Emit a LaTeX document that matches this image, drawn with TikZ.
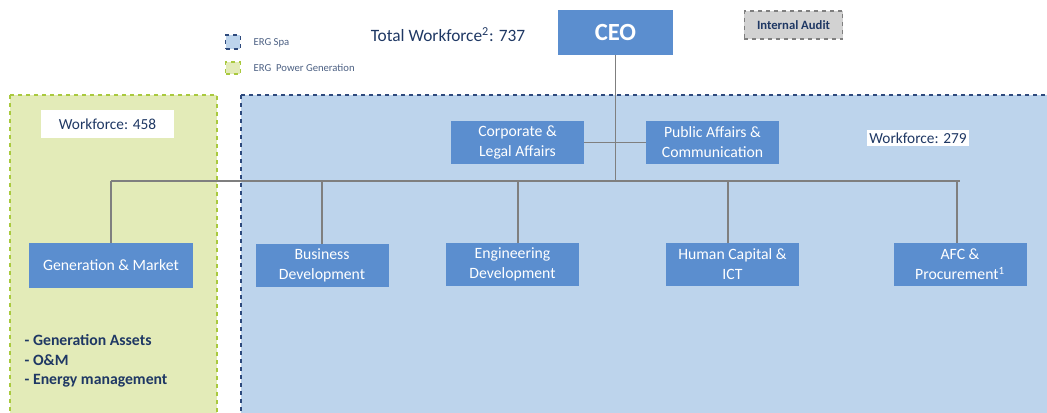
\documentclass[tikz,border=0pt]{standalone}
\usepackage{fontspec}
\setmainfont{Carlito}
\usepackage{tikz}
\definecolor{boxblue}{HTML}{5B8ECF}
\definecolor{spafill}{HTML}{BDD4EC}
\definecolor{spaline}{HTML}{2E4A7D}
\definecolor{pgfill}{HTML}{E3EBB8}
\definecolor{pgline}{HTML}{A9C93E}
\definecolor{navy}{HTML}{1F3864}
\definecolor{linegray}{HTML}{7F7F7F}
\definecolor{auditgray}{HTML}{D2D2D2}

\begin{document}
\begin{tikzpicture}[x=0.75pt, y=-0.75pt, font=\fontsize{11.8}{15}\selectfont,
  Unit/.style={fill=boxblue, text=white, align=center, inner sep=1pt, minimum width=99.75pt, minimum height=32.5pt},
  Link/.style={draw=linegray, line width=0.8pt},
  Count/.style={fill=white, text=navy, inner sep=2pt, font=\fontsize{11.5}{13}\selectfont}]

\useasboundingbox (0,0) rectangle (1047,412);

% company areas
\filldraw [fill=pgfill, draw=pgline, dashed, line width=0.9pt] (10,95) rectangle (217,418);
\filldraw [fill=spafill, draw=spaline, dashed, line width=0.9pt] (241,95) rectangle (1052,418);

% legend
\node [draw=spaline, fill=spafill, dashed, line width=0.8pt, minimum width=11pt, minimum height=10.5pt, inner sep=0pt] (legspa) at (233,42) {};
\node [draw=pgline, fill=pgfill, dashed, line width=0.8pt, minimum width=11pt, minimum height=9pt, inner sep=0pt] (legpg) at (233,68) {};
\node [anchor=west, text=navy!80, font=\fontsize{8}{9}\selectfont] (legspatxt) at (249,43) {ERG Spa};
\node [anchor=west, text=navy!80, font=\fontsize{8}{9}\selectfont] (legpgtxt) at (249,68) {ERG\ \ Power Generation};

\node [text=navy, font=\fontsize{13}{15}\selectfont] (total) at (448,35) {Total Workforce\textsuperscript{2}: 737};

% top level
\node [Unit, minimum width=86.25pt, minimum height=33.75pt, font=\fontsize{18.5}{20}\selectfont\bfseries] (ceo) at (615.5,32.5) {CEO};
\node [fill=auditgray, draw=linegray, dashed, line width=0.8pt, text=navy, minimum width=74pt, minimum height=21pt, inner sep=1pt, font=\fontsize{9.5}{11}\selectfont\bfseries] (audit) at (793.5,25) {Internal Audit};

\node [Unit] (corp) at (517.5,142.5) {Corporate \&\\Legal Affairs};
\node [Unit] (pub) at (712.5,142.5) {Public Affairs \&\\Communication};

\node [Count, minimum width=99.75pt, minimum height=21pt] (wfpg) at (107.5,124) {Workforce: 458};
\node [Count] (wfspa) at (918,138) {Workforce: 279};

% second level
\node [Unit, minimum width=123pt, minimum height=33.75pt] (genmkt) at (111,265.5) {Generation \& Market};
\node [Unit] (busdev) at (322,265.5) {Business\\Development};
\node [Unit] (engdev) at (512.5,264.5) {Engineering\\Development};
\node [Unit] (hcict) at (732.5,264.5) {Human Capital \&\\ICT};
\node [Unit] (afc) at (960,264.5) {AFC \&\\Procurement\textsuperscript{1}};

\node [anchor=north west, align=left, text=navy, font=\fontsize{11.8}{14.6}\selectfont\bfseries] (tasks) at (20,330) {- Generation Assets\\- O\&M\\- Energy management};

% connections
\coordinate (bus) at (615.5,181);
\draw [Link] (ceo) -- (ceo |- bus);
\draw [Link] (corp) -- (pub);
\draw [Link] (genmkt.north |- bus) -- (afc.north |- bus);
\foreach \unit/\dx in {genmkt/0, busdev/0, engdev/5.5, hcict/-4.5, afc/-3} {
  \draw [Link] ([xshift=\dx*0.75pt]\unit.north |- bus) -- ([xshift=\dx*0.75pt]\unit.north);
}
\end{tikzpicture}
\end{document}
